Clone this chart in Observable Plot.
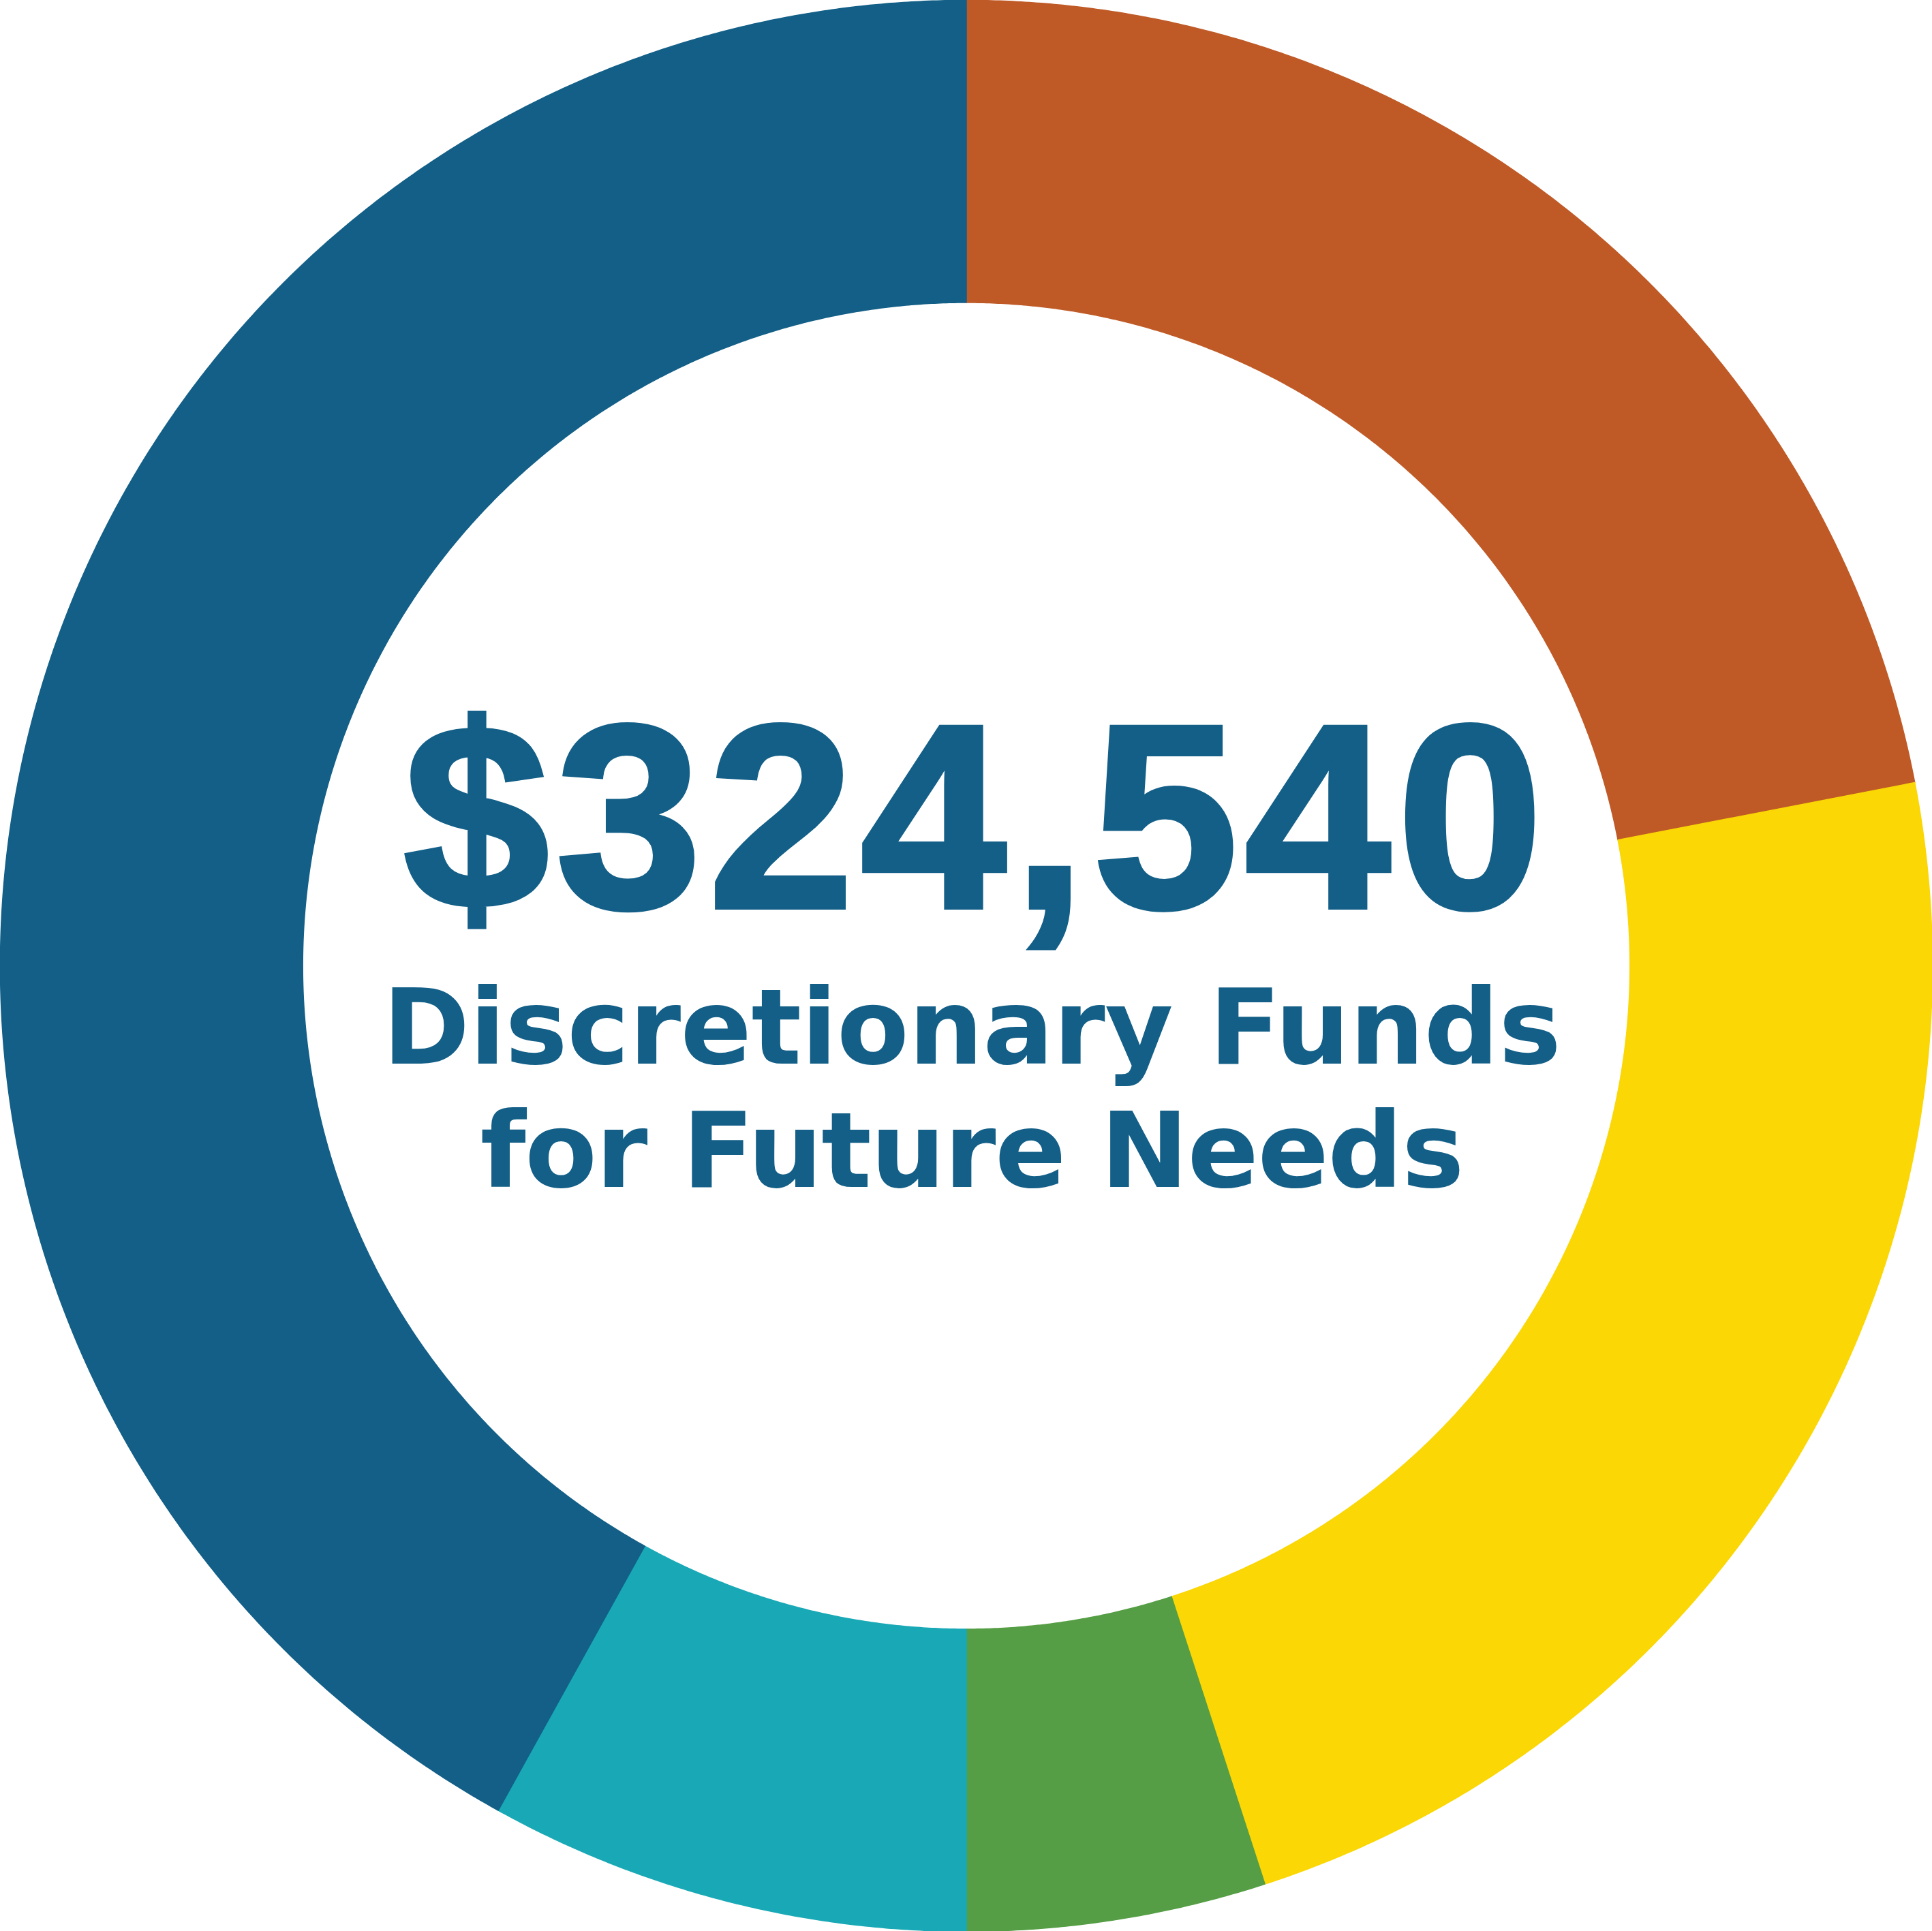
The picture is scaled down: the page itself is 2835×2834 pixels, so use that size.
<!DOCTYPE html>
<html>
<head>
<meta charset="utf-8">
<script src="https://cdn.jsdelivr.net/npm/d3@7"></script>
<script src="https://cdn.jsdelivr.net/npm/@observablehq/plot@0.6"></script>
<style>
  html, body { margin: 0; padding: 0; background: #ffffff; }
  #chart svg { display: block; }
</style>
</head>
<body>
<div id="chart"></div>
<script>
// ---- Data (clockwise from 12 o'clock) ----
const categories = ["Segment 1", "Segment 2", "Segment 3", "Segment 4", "Segment 5"];
const values = [71270, 74770, 16230, 26130, 136140];
const colors = ["#bf5a27", "#fad705", "#559e45", "#19a9b6", "#135f87"];
const totalLabel = ["$324,540"];
const subtitleLine1 = ["Discretionary Funds"];
const subtitleLine2 = ["for Future Needs"];

const textColor = "#135f87";
const innerRatio = 0.687;

// ---- Build ring polygons from the values ----
const table = categories.map((c, i) => ({category: c, value: values[i]}));
const arcs = d3.pie().sort(null).value(d => d.value)(table);
const points = [];
for (const a of arcs) {
  const n = Math.max(8, Math.ceil((a.endAngle - a.startAngle) / (Math.PI / 720)));
  const outer = [], inner = [];
  for (let k = 0; k <= n; k++) {
    const t = a.startAngle + (a.endAngle - a.startAngle) * k / n;
    outer.push({category: a.data.category, x: Math.sin(t), y: Math.cos(t)});
    inner.push({category: a.data.category, x: innerRatio * Math.sin(t), y: innerRatio * Math.cos(t)});
  }
  points.push(...outer, ...inner.reverse());
}

const chart = Plot.plot({
  width: 2835,
  height: 2834,
  margin: 0,
  x: {domain: [-1, 1], axis: null},
  y: {domain: [-1, 1], axis: null},
  color: {domain: categories, range: colors},
  marks: [
    Plot.line(points, {
      x: "x", y: "y", z: "category",
      fill: "category", stroke: "category", strokeWidth: 1.5,
      curve: "linear-closed"
    }),
    Plot.text(totalLabel, {
      text: d => d, frameAnchor: "middle", lineAnchor: "bottom",
      dx: 15, dy: -86,
      fontFamily: "Liberation Sans", fontWeight: 700, fontSize: 384,
      fill: textColor, stroke: textColor, strokeWidth: 7, strokeLinejoin: "miter"
    }),
    Plot.text(subtitleLine1, {
      text: d => d, frameAnchor: "middle", lineAnchor: "bottom",
      dx: 8, dy: 143,
      fontFamily: "DejaVu Sans", fontWeight: 700, fontSize: 154,
      fill: textColor
    }),
    Plot.text(subtitleLine2, {
      text: d => d, frameAnchor: "middle", lineAnchor: "bottom",
      dx: 8, dy: 324,
      fontFamily: "DejaVu Sans", fontWeight: 700, fontSize: 154,
      fill: textColor
    })
  ]
});

// letter spacing for the texts
chart.querySelectorAll("text").forEach(t => {
  if (t.textContent === totalLabel[0]) t.setAttribute("letter-spacing", "10");
  if (t.textContent === subtitleLine1[0]) t.setAttribute("letter-spacing", "-0.5");
  if (t.textContent === subtitleLine2[0]) t.setAttribute("letter-spacing", "-1.5");
});

document.getElementById("chart").appendChild(chart);
</script>
</body>
</html>
